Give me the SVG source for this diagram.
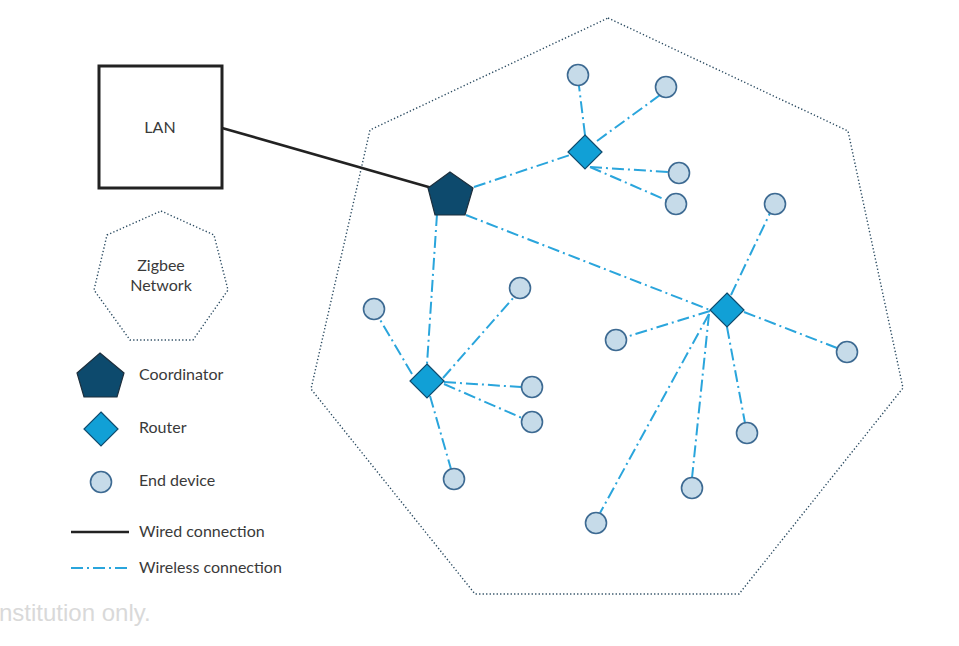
<svg xmlns="http://www.w3.org/2000/svg" width="959" height="646" viewBox="0 0 959 646">
<style>
.txt{font-family:Lato,"Open Sans","Liberation Sans",sans-serif;font-size:16px;fill:#3a3a3a}
.wl{stroke:#2aa5dc;stroke-width:2;fill:none;stroke-dasharray:12 4 2 4}
.wired{stroke:#222;stroke-width:2.6;fill:none}
.ed{fill:#c6dbe9;stroke:#3d6a92;stroke-width:1.6}
.rt{fill:#11a0d6;stroke:#0f4b6e;stroke-width:1.2}
.co{fill:#0d4a6d;stroke:#1d2f3d;stroke-width:1.2}
.net{fill:none;stroke:#2a4a60;stroke-width:1.4;stroke-dasharray:1.3 2.2}
</style>
<rect width="959" height="646" fill="#fff"/>
<g id="zigbee-network-area"><polygon class="net" points="608,18 848,131 903,388 739,594 475,594 311,389 370,130"/></g>
<g id="connectors">
<line class="wired" x1="222" y1="128" x2="432" y2="188"/>
<line class="wl" x1="474" y1="187" x2="570" y2="155"/>
<line class="wl" x1="437" y1="214" x2="427" y2="364"/>
<line class="wl" x1="466" y1="215" x2="710" y2="310"/>
<line class="wl" x1="585" y1="135" x2="579" y2="86"/>
<line class="wl" x1="597" y1="141" x2="660" y2="95"/>
<line class="wl" x1="590" y1="167" x2="669" y2="172"/>
<line class="wl" x1="590" y1="167" x2="666" y2="200"/>
<line class="wl" x1="412" y1="374" x2="379" y2="318"/>
<line class="wl" x1="443" y1="378" x2="514" y2="297"/>
<line class="wl" x1="444" y1="382" x2="521" y2="387"/>
<line class="wl" x1="444" y1="384" x2="522" y2="418"/>
<line class="wl" x1="430" y1="396" x2="451" y2="469"/>
<line class="wl" x1="731" y1="295" x2="770" y2="213"/>
<line class="wl" x1="710" y1="311" x2="626" y2="337"/>
<line class="wl" x1="744" y1="312" x2="837" y2="348"/>
<line class="wl" x1="727" y1="327" x2="745" y2="423"/>
<line class="wl" x1="709" y1="314" x2="692" y2="478"/>
<line class="wl" x1="709" y1="314" x2="600" y2="513"/>
</g>
<g id="lan"><rect x="99" y="66" width="123" height="122" fill="#fff" stroke="#222" stroke-width="3"/><text class="txt" x="160" y="133" text-anchor="middle">LAN</text></g>
<g id="coordinator"><polygon class="co" points="450,172 473,188 465,215 435,215 428,188"/></g>
<g id="router-1"><polygon class="rt" points="585,135 602,152 585,169 568,152"/></g>
<g id="router-2"><polygon class="rt" points="427,364 444,381 427,398 410,381"/></g>
<g id="router-3"><polygon class="rt" points="727,293 744,310 727,327 710,310"/></g>
<g id="end-devices">
<circle class="ed" cx="578" cy="75" r="10.5"/>
<circle class="ed" cx="666" cy="87" r="10.5"/>
<circle class="ed" cx="679" cy="173" r="10.5"/>
<circle class="ed" cx="676" cy="204" r="10.5"/>
<circle class="ed" cx="374" cy="309" r="10.5"/>
<circle class="ed" cx="520" cy="288" r="10.5"/>
<circle class="ed" cx="532" cy="387" r="10.5"/>
<circle class="ed" cx="532" cy="422" r="10.5"/>
<circle class="ed" cx="454" cy="479" r="10.5"/>
<circle class="ed" cx="775" cy="204" r="10.5"/>
<circle class="ed" cx="616" cy="340" r="10.5"/>
<circle class="ed" cx="847" cy="352" r="10.5"/>
<circle class="ed" cx="747" cy="433" r="10.5"/>
<circle class="ed" cx="692" cy="488" r="10.5"/>
<circle class="ed" cx="596" cy="523" r="10.5"/>
</g>
<g id="legend">
<polygon class="net" points="161,211 214,235 228,290 193,340 130,340 94,290 107,235"/>
<text class="txt" x="161" y="271" text-anchor="middle">Zigbee</text>
<text class="txt" x="161" y="291" text-anchor="middle">Network</text>
<polygon class="co" points="100,353 124,373 117,397 84,397 77,373"/>
<text class="txt" x="139" y="380">Coordinator</text>
<polygon class="rt" points="101,412 118,429 101,446 84,429"/>
<text class="txt" x="139" y="433">Router</text>
<circle class="ed" cx="101" cy="482" r="10.5"/>
<text class="txt" x="139" y="486">End device</text>
<line class="wired" x1="71" y1="532" x2="129" y2="532" stroke-width="3"/>
<text class="txt" x="139" y="537">Wired connection</text>
<line class="wl" x1="71" y1="568" x2="129" y2="568"/>
<text class="txt" x="139" y="573">Wireless connection</text>
</g>
<text x="-1" y="621" font-family="'Liberation Sans',Arial,sans-serif" font-size="24" fill="#d9d9d9">nstitution only.</text>
</svg>
